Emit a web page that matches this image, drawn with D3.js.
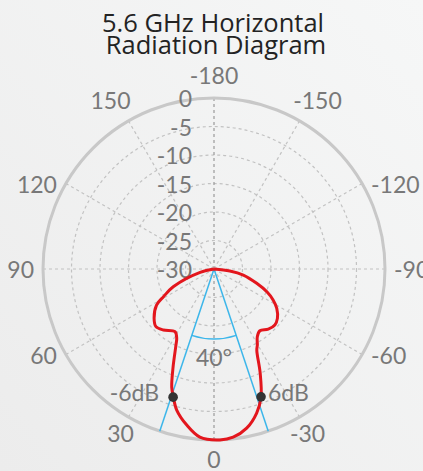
<!DOCTYPE html>
<html>
<head>
<meta charset="utf-8">
<script src="https://cdn.jsdelivr.net/npm/d3@7"></script>
<style>
  html, body { margin: 0; padding: 0; background: #f1f1f1; }
  svg { display: block; }
</style>
</head>
<body>
<svg id="chart"></svg>
<script>
// pattern: angle in degrees (0 = front, bottom of chart), gain in dB
const angles = [-180, -135, -90, -83, -78.4, -71.5, -66.7, -62.4, -57.9, -52.1, -47.4, -42.1, -36.6, -32.6, -29.7,
  -27.8, -23.9, -20.2, -16.5, -11.6, -6.5, -2, 4.8, 9.9, 14.8, 17.7, 19.7, 22.6, 26.6, 28.3, 31.9, 39.7, 45.2,
  50.6, 57.9, 61.3, 66.5, 76.7, 90, 135, 180];
const gains = [-30, -30, -30, -27.2, -24.75, -22.1, -19.9, -18.3, -17.0, -15.9, -15.5, -15.8, -16.5, -15.9, -14.65,
  -13.9, -10.0, -6.1, -3.65, -1.5, -0.3, 0, -0.4, -2.2, -4.4, -6.5, -8.0, -11.3, -15.1, -16.2, -17.05, -16.1, -15.65,
  -16.4, -18.1, -19.9, -22.2, -27.5, -30, -30, -30];

const angleTicks = [-180, -150, -120, -90, -60, -30, 0, 30, 60, 90, 120, 150];
const gainTicks = [0, -5, -10, -15, -20, -25, -30];

const beamAngles = [18.5, -18.5];
const beamLabel = "40°";
const markerAngles = [17.7, -20.2];
const markerGains = [-6.4, -6.1];
const markerLabels = ["-6dB", "6dB"];

const titleLines = ["5.6 GHz Horizontal", "Radiation Diagram"];

const width = 423, height = 471;
const cx = 214, cy = 269, R = 171;
const labelFont = "Lato, 'DejaVu Sans', sans-serif";
const labelSize = 23;

const svg = d3.select("#chart")
  .attr("width", width)
  .attr("height", height);

const defs = svg.append("defs");
const bg = defs.append("linearGradient")
  .attr("id", "bg")
  .attr("x1", "100%").attr("y1", "0%")
  .attr("x2", "0%").attr("y2", "100%");
bg.append("stop").attr("offset", "0%").attr("stop-color", "#f6f7f7");
bg.append("stop").attr("offset", "100%").attr("stop-color", "#ececec");

svg.append("rect")
  .attr("width", width)
  .attr("height", height)
  .attr("fill", "url(#bg)");

const r = d3.scaleLinear().domain([-30, 0]).range([0, R]).clamp(true);
const rad = d => d * Math.PI / 180;
// screen position for an angle (deg) and a radius (px)
const pos = (deg, rr) => [cx - rr * Math.sin(rad(deg)), cy + rr * Math.cos(rad(deg))];

const g = svg.append("g");

// dashed rings
g.selectAll(".ring")
  .data(gainTicks.filter(d => d > -30 && d < 0))
  .join("circle")
  .attr("class", "ring")
  .attr("cx", cx).attr("cy", cy)
  .attr("r", d => r(d))
  .attr("fill", "none")
  .attr("stroke", "#c2c2c2")
  .attr("stroke-width", 1.2)
  .attr("stroke-dasharray", "3,3");

// spokes
g.selectAll(".spoke")
  .data(angleTicks)
  .join("line")
  .attr("class", "spoke")
  .attr("x1", cx).attr("y1", cy)
  .attr("x2", d => pos(d, R)[0])
  .attr("y2", d => pos(d, R)[1])
  .attr("stroke", d => (d === 0 || d === -180) ? "#9a9a9a" : "#c2c2c2")
  .attr("stroke-width", 1.2)
  .attr("stroke-dasharray", "3,3");

// outer circle
g.append("circle")
  .attr("cx", cx).attr("cy", cy)
  .attr("r", r(0))
  .attr("fill", "none")
  .attr("stroke", "#c8c8c8")
  .attr("stroke-width", 3);

// gain labels along the vertical axis
g.selectAll(".gainLabel")
  .data(gainTicks)
  .join("text")
  .attr("class", "gainLabel")
  .attr("x", cx - 22)
  .attr("y", d => cy - r(d))
  .attr("text-anchor", "end")
  .attr("dominant-baseline", "central")
  .attr("font-family", labelFont)
  .attr("font-size", labelSize)
  .attr("fill", "#787878")
  .text(d => d);

// angle labels round the outside
g.selectAll(".angleLabel")
  .data(angleTicks)
  .join("text")
  .attr("class", "angleLabel")
  .each(function(d) {
    const s = Math.sin(rad(d)), c = Math.cos(rad(d));
    const t = d3.select(this);
    if (Math.abs(s) > 0.6) {
      t.attr("x", cx - s * R - Math.sign(s) * 9)
        .attr("y", cy + c * R)
        .attr("text-anchor", s > 0 ? "end" : "start");
    } else {
      t.attr("x", cx - s * (c < 0 ? R + 36 : R + 16))
        .attr("y", cy + c * (R + 21) - 2.5)
        .attr("text-anchor", "middle");
    }
  })
  .attr("dominant-baseline", "central")
  .attr("font-family", labelFont)
  .attr("font-size", labelSize)
  .attr("fill", "#787878")
  .text(d => d);

// beamwidth lines and arc
g.selectAll(".beam")
  .data(beamAngles)
  .join("line")
  .attr("class", "beam")
  .attr("x1", cx).attr("y1", cy)
  .attr("x2", d => pos(d, R)[0])
  .attr("y2", d => pos(d, R)[1])
  .attr("stroke", "#3cb6ea")
  .attr("stroke-width", 1.5);

const arc = d3.arc()
  .innerRadius(70).outerRadius(70)
  .startAngle(rad(180 - beamAngles[0]))
  .endAngle(rad(180 - beamAngles[1]));
g.append("path")
  .attr("transform", `translate(${cx},${cy})`)
  .attr("d", arc())
  .attr("fill", "none")
  .attr("stroke", "#3cb6ea")
  .attr("stroke-width", 1.5);

g.append("text")
  .attr("x", cx)
  .attr("y", cy + 88)
  .attr("text-anchor", "middle")
  .attr("dominant-baseline", "central")
  .attr("font-family", labelFont)
  .attr("font-size", labelSize)
  .attr("fill", "#787878")
  .text(beamLabel);

// the pattern
const pattern = angles.map((a, i) => ({ a, v: gains[i] }));
const line = d3.lineRadial()
  .angle(d => rad(d.a + 180))
  .radius(d => r(d.v))
  .curve(d3.curveCatmullRom.alpha(0.5));

g.append("path")
  .datum(pattern)
  .attr("transform", `translate(${cx},${cy})`)
  .attr("d", line)
  .attr("fill", "none")
  .attr("stroke", "#e3161d")
  .attr("stroke-width", 3)
  .attr("stroke-linejoin", "round");

// -6 dB markers
const markers = markerAngles.map((a, i) => ({ a, v: markerGains[i], label: markerLabels[i] }));
g.selectAll(".marker")
  .data(markers)
  .join("circle")
  .attr("class", "marker")
  .attr("cx", d => pos(d.a, r(d.v))[0])
  .attr("cy", d => pos(d.a, r(d.v))[1])
  .attr("r", 4.8)
  .attr("fill", "#333");

g.selectAll(".markerLabel")
  .data(markers)
  .join("text")
  .attr("class", "markerLabel")
  .attr("x", d => pos(d.a, r(d.v))[0] + (d.a > 0 ? -14 : 7))
  .attr("y", d => pos(d.a, r(d.v))[1] - 5)
  .attr("text-anchor", d => d.a > 0 ? "end" : "start")
  .attr("dominant-baseline", "central")
  .attr("font-family", labelFont)
  .attr("font-size", labelSize)
  .attr("fill", "#787878")
  .text(d => d.label);

// title
svg.selectAll(".title")
  .data(titleLines)
  .join("text")
  .attr("class", "title")
  .attr("x", (d, i) => i === 0 ? 213 : 216)
  .attr("y", (d, i) => 31.5 + i * 22.6)
  .attr("text-anchor", "middle")
  .attr("font-family", "'Open Sans', sans-serif")
  .attr("font-size", 25.5)
  .attr("fill", "#232323")
  .text(d => d);
</script>
</body>
</html>
